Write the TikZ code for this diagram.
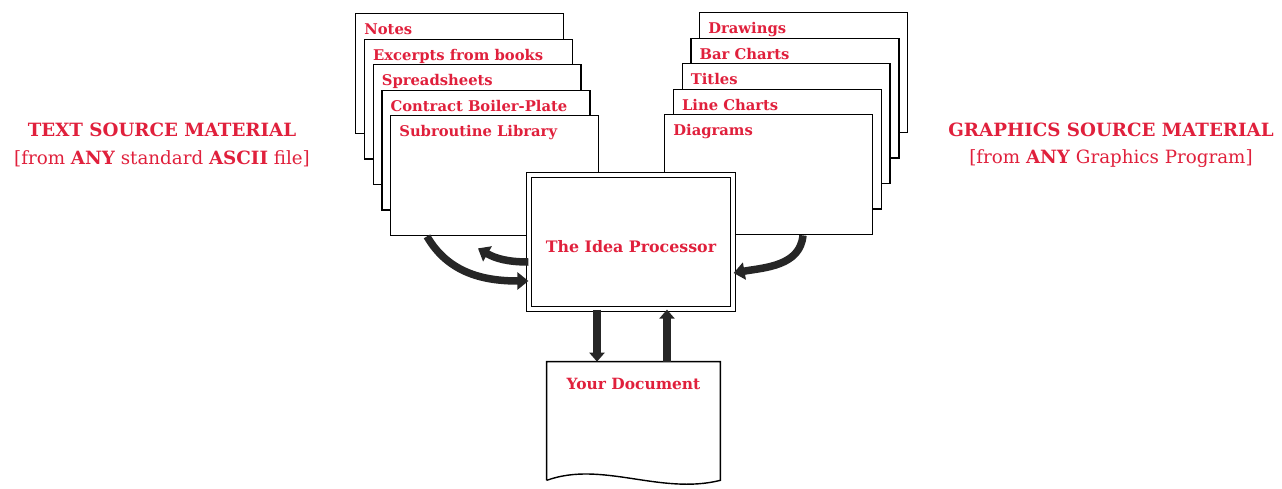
\documentclass[tikz,border=0pt]{standalone}
\usepackage{fontspec}
\setmainfont{DejaVu Serif}
\usepackage{xcolor}
\usetikzlibrary{arrows.meta}
\definecolor{srcred}{HTML}{E0203C}

\tikzset{
  sheet/.style={draw,fill=white,line width=0.8pt,anchor=north west,
                minimum width=4.16cm,minimum height=2.4cm},
  sheettext/.style={anchor=north west,inner sep=0pt,xshift=0.18cm,yshift=-0.2cm,
                    text=srcred,font=\bfseries\fontsize{8.4}{9}\selectfont},
  flow/.style={line width=0.15cm,draw=black!85,-{Triangle[width=0.34cm,length=0.22cm]}},
  vflow/.style={line width=0.15cm,draw=black!85,-{Triangle[width=0.3cm,length=0.18cm]}},
  srctext/.style={text=srcred,align=center,font=\fontsize{10.4}{15.5}\selectfont}
}

\begin{document}
\begin{tikzpicture}[x=0.02cm,y=-0.02cm]
        \useasboundingbox (0,0) rectangle (1282,488);

        \node[srctext] (txtsrc) at (162,145)
          {\textbf{TEXT SOURCE MATERIAL}\\{}[from \textbf{ANY} standard \textbf{ASCII} file]};
        \node[srctext] (gfxsrc) at (1111,145)
          {\textbf{GRAPHICS SOURCE MATERIAL}\\{}[from \textbf{ANY} Graphics Program]};

        \foreach \name/\txt [count=\i from 0] in {notes/Notes,excerpts/Excerpts from books,
            spread/Spreadsheets,contract/Contract Boiler-Plate,subr/Subroutine Library}
          \node[sheet,label={[sheettext]north west:\txt}] (\name) at (355+8.75*\i,13+25.5*\i) {};

        \foreach \name/\txt [count=\i from 0] in {drawings/Drawings,bars/Bar Charts,
            titles/Titles,lines/Line Charts,diagrams/Diagrams}
          \node[sheet,label={[sheettext]north west:\txt}] (\name) at (699-8.75*\i,12+25.5*\i) {};

        \node[draw,double,double distance=0.07cm,line width=0.7pt,fill=white,
              minimum width=4.08cm,minimum height=2.68cm,
              text=srcred,font=\bfseries\fontsize{9}{10}\selectfont] (idea) at (631,242)
          {\raisebox{-0.09cm}[\height][\depth]{The Idea Processor}};

        \node[minimum width=3.46cm,minimum height=2.36cm,
              label={[sheettext,anchor=north,xshift=-0.18cm,yshift=-0.12cm,font=\bfseries\fontsize{8.8}{10}\selectfont]north:Your Document}] (doc) at (633.5,421) {};
        \draw[line width=0.8pt] (doc.south west) -- (doc.north west) -- (doc.north east) -- (doc.south east)
          .. controls +(-60,15) and +(55,-20) .. (doc.south west);

        \draw[flow] ([xshift=0.74cm]subr.south west) to[out=-60,in=180] ([yshift=-0.78cm]idea.west);
        \draw[flow] ([yshift=-0.4cm]idea.west) to[out=180,in=-30] ([xshift=1.76cm,yshift=-0.24cm]subr.south west);
        \draw[flow] ([xshift=2.78cm]diagrams.south west) to[out=-95,in=10] ([yshift=-0.62cm]idea.east);
        \draw[vflow] ([xshift=-0.68cm]idea.south) -- ([xshift=-0.68cm]idea.south |- doc.north);
        \draw[vflow] ([xshift=0.72cm]idea.south |- doc.north) -- ([xshift=0.72cm]idea.south);
      \end{tikzpicture}
\end{document}
